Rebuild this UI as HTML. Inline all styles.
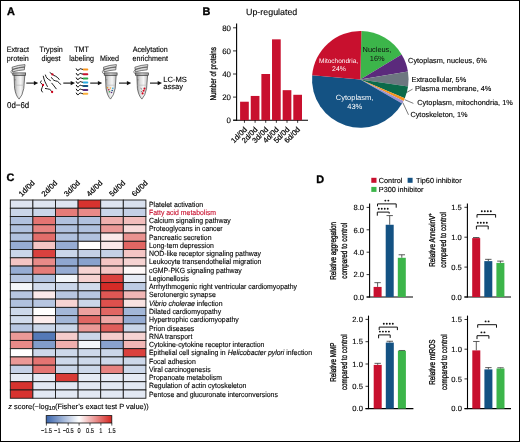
<!DOCTYPE html>
<html><head><meta charset="utf-8"><style>
html,body{margin:0;padding:0;background:#fff;}
svg{display:block;font-family:"Liberation Sans", sans-serif;will-change:transform;}
text{stroke-width:0.12px;paint-order:fill;text-rendering:geometricPrecision;}
</style></head><body>
<svg width="520" height="442" viewBox="0 0 520 442" font-family='"Liberation Sans", sans-serif'>
<rect width="520" height="442" fill="#fff"/>
<rect x="0.5" y="0.5" width="519" height="441" fill="none" stroke="#000" stroke-width="1"/>
<text x="6.9" y="15" font-size="10.9" text-anchor="start" fill="#000" font-weight="bold" stroke="#000" style="stroke-width:0.35px">A</text>
<text x="202.4" y="15.2" font-size="10.9" text-anchor="start" fill="#000" font-weight="bold" stroke="#000" style="stroke-width:0.35px">B</text>
<text x="6.4" y="181.3" font-size="10.9" text-anchor="start" fill="#000" font-weight="bold" stroke="#000" style="stroke-width:0.35px">C</text>
<text x="316.3" y="182.6" font-size="10.9" text-anchor="start" fill="#000" font-weight="bold" stroke="#000" style="stroke-width:0.35px">D</text>
<text transform="translate(17.8,51.7) scale(0.92,1)" font-size="7.8" text-anchor="middle" fill="#000" stroke="#000">Extract</text>
<text transform="translate(17.8,60.8) scale(0.92,1)" font-size="7.8" text-anchor="middle" fill="#000" stroke="#000">protein</text>
<text transform="translate(51.2,51.7) scale(0.92,1)" font-size="7.8" text-anchor="middle" fill="#000" stroke="#000">Trypsin</text>
<text transform="translate(51.0,60.8) scale(0.92,1)" font-size="7.8" text-anchor="middle" fill="#000" stroke="#000">digest</text>
<text transform="translate(81.5,51.7) scale(0.92,1)" font-size="7.8" text-anchor="middle" fill="#000" stroke="#000">TMT</text>
<text transform="translate(81.5,60.8) scale(0.92,1)" font-size="7.8" text-anchor="middle" fill="#000" stroke="#000">labeling</text>
<text transform="translate(109.5,60.8) scale(0.92,1)" font-size="7.8" text-anchor="middle" fill="#000" stroke="#000">Mixed</text>
<text transform="translate(150.2,51.7) scale(0.92,1)" font-size="7.8" text-anchor="middle" fill="#000" stroke="#000">Acelytation</text>
<text transform="translate(150.2,60.8) scale(0.92,1)" font-size="7.8" text-anchor="middle" fill="#000" stroke="#000">enrichment</text>
<text x="163.3" y="81.5" font-size="7.6" text-anchor="start" fill="#000" font-weight="normal"  style="" stroke="#000">LC-MS</text>
<text x="163.3" y="88.6" font-size="7.6" text-anchor="start" fill="#000" font-weight="normal"  style="" stroke="#000">assay</text>
<text transform="translate(18.15,107.5) scale(0.93,1)" font-size="8.5" text-anchor="middle" fill="#000" stroke="#000">0d−6d</text>
<defs>
<linearGradient id="tg" x1="0" x2="1" y1="0" y2="0">
<stop offset="0" stop-color="#9c9c9c"/><stop offset="0.3" stop-color="#dadada"/><stop offset="0.62" stop-color="#f6f6f6"/><stop offset="1" stop-color="#bdbdbd"/>
</linearGradient>
<linearGradient id="lg" x1="0" x2="1" y1="0" y2="0">
<stop offset="0" stop-color="#8a8a8a"/><stop offset="0.5" stop-color="#d4d4d4"/><stop offset="1" stop-color="#a0a0a0"/>
</linearGradient>
<g id="tube">
<path d="M-5.2,0 L-4.6,13.2 Q-3.4,20.6 -0.1,23.9 Q3.2,20.6 4.6,13.2 L5.6,0 Z" fill="url(#tg)" stroke="#2a2a2a" stroke-width="0.6"/>
<line x1="-4.6" y1="10.0" x2="4.6" y2="10.0" stroke="#b5b5b5" stroke-width="0.6"/>
<line x1="-4.9" y1="4.6" x2="-3.3" y2="4.6" stroke="#555" stroke-width="0.45"/>
<rect x="-6.4" y="-2.3" width="12.9" height="2.3" fill="url(#lg)" stroke="#2a2a2a" stroke-width="0.6"/>
<path d="M-6.6,-3.3 L-6.9,-5.6 Q-1,-7.6 5.4,-8.2 L5.2,-5.4 Q-0.5,-5.0 -6.6,-3.3 Z" fill="#d8d8d8" stroke="#2a2a2a" stroke-width="0.6"/>
<path d="M-6.9,-5.9 L-7.1,-8.0 Q-1,-10.2 5.8,-10.6 L5.6,-8.5 Q-0.8,-7.9 -6.9,-5.9 Z" fill="#e2e2e2" stroke="#2a2a2a" stroke-width="0.6"/>
<path d="M-6.9,-5.4 Q-9.0,-4.0 -7.9,-2.2 L-6.5,-1.4" fill="none" stroke="#333" stroke-width="0.55"/>
</g>
</defs>
<use href="#tube" x="19.2" y="75.2"/>
<use href="#tube" x="110.6" y="75.2"/>
<use href="#tube" x="142.0" y="75.2"/>
<line x1="26.3" y1="83.1" x2="34.800000000000004" y2="83.1" stroke="#111" stroke-width="1.1"/>
<path d="M33.900000000000006,80.9 L38.2,83.1 L33.900000000000006,85.3 Z" fill="#111"/>
<line x1="63.3" y1="83.1" x2="71.6" y2="83.1" stroke="#111" stroke-width="1.1"/>
<path d="M70.7,80.9 L75.0,83.1 L70.7,85.3 Z" fill="#111"/>
<line x1="90.2" y1="83.1" x2="98.8" y2="83.1" stroke="#111" stroke-width="1.1"/>
<path d="M97.9,80.9 L102.2,83.1 L97.9,85.3 Z" fill="#111"/>
<line x1="119.0" y1="83.1" x2="127.79999999999998" y2="83.1" stroke="#111" stroke-width="1.1"/>
<path d="M126.89999999999999,80.9 L131.2,83.1 L126.89999999999999,85.3 Z" fill="#111"/>
<line x1="150.0" y1="83.1" x2="158.6" y2="83.1" stroke="#111" stroke-width="1.1"/>
<path d="M157.7,80.9 L162.0,83.1 L157.7,85.3 Z" fill="#111"/>
<path d="M41.2,80.9 L40.4,82.6 L43.0,85.0 L42.2,87.4 L41.2,90.0 L42.4,92.0" fill="none" stroke="#111" stroke-width="0.95" stroke-linecap="round" stroke-linejoin="round"/>
<path d="M43.3,76.2 Q44.0,79.5 45.0,81.8 Q46.3,84.3 47.4,86.5" fill="none" stroke="#111" stroke-width="0.95" stroke-linecap="round" stroke-linejoin="round"/>
<path d="M45.4,75.0 Q46.0,77.0 46.8,77.9 Q48.5,79.6 50.4,80.6" fill="none" stroke="#111" stroke-width="0.95" stroke-linecap="round" stroke-linejoin="round"/>
<path d="M50.0,72.6 L52.4,74.4 Q54.0,75.6 55.6,76.2 Q58.0,77.3 59.2,79.4" fill="none" stroke="#111" stroke-width="0.95" stroke-linecap="round" stroke-linejoin="round"/>
<path d="M51.5,77.6 Q52.6,79.4 53.9,80.3 Q55.6,81.0 57.4,81.3 Q59.3,82.6 60.6,84.4" fill="none" stroke="#111" stroke-width="0.95" stroke-linecap="round" stroke-linejoin="round"/>
<path d="M51.8,83.2 Q54.0,85.8 56.2,88.8" fill="none" stroke="#111" stroke-width="0.95" stroke-linecap="round" stroke-linejoin="round"/>
<path d="M45.4,88.5 Q47.8,88.8 49.8,89.4 Q51.3,90.4 52.1,92.1" fill="none" stroke="#111" stroke-width="0.95" stroke-linecap="round" stroke-linejoin="round"/>
<circle cx="43.0" cy="85.0" r="1.15" fill="#d0021b"/>
<circle cx="52.4" cy="74.4" r="1.15" fill="#d0021b"/>
<circle cx="52.1" cy="92.0" r="1.15" fill="#d0021b"/>
<path d="M76.3,68.8 Q77.2,70.9 78.1,70.5 Q78.9,69.9 79.6,69.0 Q80.6,68.4 81.6,69.1 L83.2,69.5" fill="none" stroke="#000" stroke-width="1.0" stroke-linecap="round" stroke-linejoin="round"/>
<line x1="83.7" y1="69.5" x2="87.3" y2="69.5" stroke="#f7941d" stroke-width="2.0" stroke-linecap="round"/>
<path d="M76.3,73.5 Q77.2,75.60000000000001 78.1,75.2 Q78.9,74.60000000000001 79.6,73.7 Q80.6,73.10000000000001 81.6,73.8 L83.2,74.2" fill="none" stroke="#000" stroke-width="1.0" stroke-linecap="round" stroke-linejoin="round"/>
<line x1="83.7" y1="74.2" x2="87.3" y2="74.2" stroke="#c8102e" stroke-width="2.0" stroke-linecap="round"/>
<path d="M76.3,77.89999999999999 Q77.2,80.0 78.1,79.6 Q78.9,79.0 79.6,78.1 Q80.6,77.5 81.6,78.19999999999999 L83.2,78.6" fill="none" stroke="#000" stroke-width="1.0" stroke-linecap="round" stroke-linejoin="round"/>
<line x1="83.7" y1="78.6" x2="87.3" y2="78.6" stroke="#2daa4a" stroke-width="2.0" stroke-linecap="round"/>
<path d="M76.3,81.7 Q77.2,83.80000000000001 78.1,83.4 Q78.9,82.80000000000001 79.6,81.9 Q80.6,81.30000000000001 81.6,82.0 L83.2,82.4" fill="none" stroke="#000" stroke-width="1.0" stroke-linecap="round" stroke-linejoin="round"/>
<line x1="83.7" y1="82.4" x2="87.3" y2="82.4" stroke="#29abe2" stroke-width="2.0" stroke-linecap="round"/>
<path d="M76.3,85.3 Q77.2,87.4 78.1,87.0 Q78.9,86.4 79.6,85.5 Q80.6,84.9 81.6,85.6 L83.2,86.0" fill="none" stroke="#000" stroke-width="1.0" stroke-linecap="round" stroke-linejoin="round"/>
<line x1="83.7" y1="86.0" x2="87.3" y2="86.0" stroke="#145283" stroke-width="2.0" stroke-linecap="round"/>
<path d="M76.3,89.2 Q77.2,91.30000000000001 78.1,90.9 Q78.9,90.30000000000001 79.6,89.4 Q80.6,88.80000000000001 81.6,89.5 L83.2,89.9" fill="none" stroke="#000" stroke-width="1.0" stroke-linecap="round" stroke-linejoin="round"/>
<line x1="83.7" y1="89.9" x2="87.3" y2="89.9" stroke="#5b2a7c" stroke-width="2.0" stroke-linecap="round"/>
<path d="M76.3,93.1 Q77.2,95.2 78.1,94.8 Q78.9,94.2 79.6,93.3 Q80.6,92.7 81.6,93.39999999999999 L83.2,93.8" fill="none" stroke="#000" stroke-width="1.0" stroke-linecap="round" stroke-linejoin="round"/>
<line x1="83.7" y1="93.8" x2="87.3" y2="93.8" stroke="#fbb03b" stroke-width="2.0" stroke-linecap="round"/>
<circle cx="107.5" cy="87.8" r="0.8" fill="#f7941d"/>
<circle cx="110.4" cy="88.0" r="0.8" fill="#fbb03b"/>
<circle cx="112.8" cy="88.2" r="0.8" fill="#29abe2"/>
<circle cx="108.8" cy="89.8" r="0.8" fill="#c8102e"/>
<circle cx="112.2" cy="90.5" r="0.8" fill="#145283"/>
<circle cx="109.5" cy="91.8" r="0.8" fill="#2daa4a"/>
<circle cx="111.5" cy="92.5" r="0.8" fill="#5b2a7c"/>
<path d="M140.5,88.2 L142.0,89.3 M140.9,91.4 L142.2,91.8" fill="none" stroke="#333" stroke-width="0.55"/>
<circle cx="144.5" cy="88.6" r="1.05" fill="#d0021b"/>
<circle cx="143.6" cy="90.7" r="1.05" fill="#d0021b"/>
<circle cx="142.6" cy="93.4" r="1.05" fill="#d0021b"/>
<text x="246.0" y="15.0" font-size="8.9" text-anchor="start" fill="#000" font-weight="normal"  style="" stroke="#000">Up-regulated</text>
<line x1="236.6" y1="23.6" x2="236.6" y2="120.7" stroke="#000" stroke-width="1.1"/>
<line x1="233.2" y1="120.2" x2="308" y2="120.2" stroke="#000" stroke-width="1.1"/>
<line x1="233.0" y1="120.2" x2="236.6" y2="120.2" stroke="#000" stroke-width="0.8"/>
<text x="231.0" y="123.00" font-size="7.9" text-anchor="end" fill="#000" font-weight="normal"  style="" stroke="#000">0</text>
<line x1="233.0" y1="97.1" x2="236.6" y2="97.1" stroke="#000" stroke-width="0.8"/>
<text x="231.0" y="99.90" font-size="7.9" text-anchor="end" fill="#000" font-weight="normal"  style="" stroke="#000">20</text>
<line x1="233.0" y1="74.0" x2="236.6" y2="74.0" stroke="#000" stroke-width="0.8"/>
<text x="231.0" y="76.80" font-size="7.9" text-anchor="end" fill="#000" font-weight="normal"  style="" stroke="#000">40</text>
<line x1="233.0" y1="50.900000000000006" x2="236.6" y2="50.900000000000006" stroke="#000" stroke-width="0.8"/>
<text x="231.0" y="53.70" font-size="7.9" text-anchor="end" fill="#000" font-weight="normal"  style="" stroke="#000">60</text>
<line x1="233.0" y1="27.799999999999997" x2="236.6" y2="27.799999999999997" stroke="#000" stroke-width="0.8"/>
<text x="231.0" y="30.60" font-size="7.9" text-anchor="end" fill="#000" font-weight="normal"  style="" stroke="#000">80</text>
<rect x="240.1" y="101.72" width="8.7" height="18.48" fill="#c8102e"/>
<line x1="244.45" y1="120.2" x2="244.45" y2="122.8" stroke="#000" stroke-width="0.8"/>
<text transform="translate(247.35,130.1) rotate(-45)" font-size="7.5" text-anchor="end" fill="#000" stroke="#000" style="stroke-width:0.2px">1d/0d</text>
<rect x="250.74" y="95.94500000000001" width="8.7" height="24.255" fill="#c8102e"/>
<line x1="255.09" y1="120.2" x2="255.09" y2="122.8" stroke="#000" stroke-width="0.8"/>
<text transform="translate(257.99,130.1) rotate(-45)" font-size="7.5" text-anchor="end" fill="#000" stroke="#000" style="stroke-width:0.2px">2d/0d</text>
<rect x="261.38" y="74.0" width="8.7" height="46.2" fill="#c8102e"/>
<line x1="265.73" y1="120.2" x2="265.73" y2="122.8" stroke="#000" stroke-width="0.8"/>
<text transform="translate(268.63,130.1) rotate(-45)" font-size="7.5" text-anchor="end" fill="#000" stroke="#000" style="stroke-width:0.2px">3d/0d</text>
<rect x="272.02" y="39.349999999999994" width="8.7" height="80.85000000000001" fill="#c8102e"/>
<line x1="276.37" y1="120.2" x2="276.37" y2="122.8" stroke="#000" stroke-width="0.8"/>
<text transform="translate(279.27,130.1) rotate(-45)" font-size="7.5" text-anchor="end" fill="#000" stroke="#000" style="stroke-width:0.2px">4d/0d</text>
<rect x="282.65999999999997" y="90.17" width="8.7" height="30.03" fill="#c8102e"/>
<line x1="287.01" y1="120.2" x2="287.01" y2="122.8" stroke="#000" stroke-width="0.8"/>
<text transform="translate(289.90999999999997,130.1) rotate(-45)" font-size="7.5" text-anchor="end" fill="#000" stroke="#000" style="stroke-width:0.2px">5d/0d</text>
<rect x="293.3" y="94.79" width="8.7" height="25.41" fill="#c8102e"/>
<line x1="297.65000000000003" y1="120.2" x2="297.65000000000003" y2="122.8" stroke="#000" stroke-width="0.8"/>
<text transform="translate(300.55,130.1) rotate(-45)" font-size="7.5" text-anchor="end" fill="#000" stroke="#000" style="stroke-width:0.2px">6d/0d</text>
<text transform="translate(215.8,73.8) rotate(-90) scale(0.742,1)" font-size="8.5" text-anchor="middle" fill="#000" stroke="#000" style="stroke-width:0.3px">Number of proteins</text>
<path d="M360.3,79.4 L361.40,31.11 A48.3,48.3 0 0 1 401.66,54.45 Z" fill="#3cb54a"/>
<path d="M360.3,79.4 L401.66,54.45 A48.3,48.3 0 0 1 407.94,71.43 Z" fill="#5b2a7c"/>
<path d="M360.3,79.4 L407.94,71.43 A48.3,48.3 0 0 1 408.07,86.54 Z" fill="#6d7780"/>
<path d="M360.3,79.4 L408.07,86.54 A48.3,48.3 0 0 1 404.79,98.19 Z" fill="#0b6a4a"/>
<path d="M360.3,79.4 L404.79,98.19 A48.3,48.3 0 0 1 403.53,100.95 Z" fill="#f7941d"/>
<path d="M360.3,79.4 L403.53,100.95 A48.3,48.3 0 0 1 402.09,103.62 Z" fill="#9b8fd0"/>
<path d="M360.3,79.4 L402.09,103.62 A48.3,48.3 0 0 1 312.18,75.27 Z" fill="#145283"/>
<path d="M360.3,79.4 L312.18,75.27 A48.3,48.3 0 0 1 361.40,31.11 Z" fill="#c8102e"/>
<text x="377.0" y="51.6" font-size="7.4" text-anchor="middle" fill="#111" font-weight="normal" stroke="none" style="">Nucleus,</text>
<text x="377.2" y="61.1" font-size="7.4" text-anchor="middle" fill="#111" font-weight="normal" stroke="none" style="">16%</text>
<text x="338.6" y="62.9" font-size="6.5" text-anchor="middle" fill="#fff" font-weight="normal" stroke="none" style="">Mitochondria,</text>
<text x="339.0" y="71.0" font-size="6.9" text-anchor="middle" fill="#fff" font-weight="normal" stroke="none" style="">24%</text>
<text x="354.6" y="99.8" font-size="7.5" text-anchor="middle" fill="#fff" font-weight="normal" stroke="none" style="">Cytoplasm,</text>
<text x="354.8" y="109.3" font-size="7.5" text-anchor="middle" fill="#fff" font-weight="normal" stroke="none" style="">43%</text>
<text x="408.1" y="62.6" font-size="7.35" text-anchor="start" fill="#000" font-weight="normal"  style="" stroke="#000">Cytoplasm, nucleus, 6%</text>
<text x="411.5" y="81.5" font-size="7.35" text-anchor="start" fill="#000" font-weight="normal"  style="" stroke="#000">Extracellular, 5%</text>
<text x="415.0" y="91.2" font-size="7.35" text-anchor="start" fill="#000" font-weight="normal"  style="" stroke="#000">Plasma membrane, 4%</text>
<text x="417.3" y="104.6" font-size="7.35" text-anchor="start" fill="#000" font-weight="normal"  style="" stroke="#000">Cytoplasm, mitochondria, 1%</text>
<text x="410.4" y="116.8" font-size="7.35" text-anchor="start" fill="#000" font-weight="normal"  style="" stroke="#000">Cytoskeleton, 1%</text>
<line x1="406.4" y1="92.6" x2="412.6" y2="89.1" stroke="#333" stroke-width="0.65"/>
<line x1="404.8" y1="99.7" x2="413.4" y2="103.4" stroke="#333" stroke-width="0.65"/>
<line x1="402.8" y1="102.6" x2="408.5" y2="114.8" stroke="#333" stroke-width="0.65"/>
<rect x="10.30" y="200.00" width="22.60" height="8.26" fill="#dee5f1" stroke="#1a1a1a" stroke-width="0.9"/>
<rect x="32.90" y="200.00" width="22.60" height="8.26" fill="#dee5f1" stroke="#1a1a1a" stroke-width="0.9"/>
<rect x="55.50" y="200.00" width="22.60" height="8.26" fill="#dee5f1" stroke="#1a1a1a" stroke-width="0.9"/>
<rect x="78.10" y="200.00" width="22.60" height="8.26" fill="#d7332f" stroke="#1a1a1a" stroke-width="0.9"/>
<rect x="100.70" y="200.00" width="22.60" height="8.26" fill="#dee5f1" stroke="#1a1a1a" stroke-width="0.9"/>
<rect x="123.30" y="200.00" width="22.60" height="8.26" fill="#d8e0ee" stroke="#1a1a1a" stroke-width="0.9"/>
<text transform="translate(149.0,206.60) scale(0.92,1)" font-size="7.5" fill="#000" stroke="#000">Platelet activation</text>
<rect x="10.30" y="208.26" width="22.60" height="8.26" fill="#cad6e9" stroke="#1a1a1a" stroke-width="0.9"/>
<rect x="32.90" y="208.26" width="22.60" height="8.26" fill="#cad6e9" stroke="#1a1a1a" stroke-width="0.9"/>
<rect x="55.50" y="208.26" width="22.60" height="8.26" fill="#e57c79" stroke="#1a1a1a" stroke-width="0.9"/>
<rect x="78.10" y="208.26" width="22.60" height="8.26" fill="#e88a88" stroke="#1a1a1a" stroke-width="0.9"/>
<rect x="100.70" y="208.26" width="22.60" height="8.26" fill="#cad6e9" stroke="#1a1a1a" stroke-width="0.9"/>
<rect x="123.30" y="208.26" width="22.60" height="8.26" fill="#c4d0e6" stroke="#1a1a1a" stroke-width="0.9"/>
<text transform="translate(149.0,214.86) scale(0.92,1)" font-size="7.5" fill="#c8102e" stroke="#c8102e">Fatty acid metabolism</text>
<rect x="10.30" y="216.52" width="22.60" height="8.26" fill="#b0c1de" stroke="#1a1a1a" stroke-width="0.9"/>
<rect x="32.90" y="216.52" width="22.60" height="8.26" fill="#e47472" stroke="#1a1a1a" stroke-width="0.9"/>
<rect x="55.50" y="216.52" width="22.60" height="8.26" fill="#b0c1de" stroke="#1a1a1a" stroke-width="0.9"/>
<rect x="78.10" y="216.52" width="22.60" height="8.26" fill="#b0c1de" stroke="#1a1a1a" stroke-width="0.9"/>
<rect x="100.70" y="216.52" width="22.60" height="8.26" fill="#efafad" stroke="#1a1a1a" stroke-width="0.9"/>
<rect x="123.30" y="216.52" width="22.60" height="8.26" fill="#f2bdbc" stroke="#1a1a1a" stroke-width="0.9"/>
<text transform="translate(149.0,223.12) scale(0.92,1)" font-size="7.5" fill="#000" stroke="#000">Calcium signaling pathway</text>
<rect x="10.30" y="224.78" width="22.60" height="8.26" fill="#b0c1de" stroke="#1a1a1a" stroke-width="0.9"/>
<rect x="32.90" y="224.78" width="22.60" height="8.26" fill="#e78381" stroke="#1a1a1a" stroke-width="0.9"/>
<rect x="55.50" y="224.78" width="22.60" height="8.26" fill="#b0c1de" stroke="#1a1a1a" stroke-width="0.9"/>
<rect x="78.10" y="224.78" width="22.60" height="8.26" fill="#b0c1de" stroke="#1a1a1a" stroke-width="0.9"/>
<rect x="100.70" y="224.78" width="22.60" height="8.26" fill="#eb9997" stroke="#1a1a1a" stroke-width="0.9"/>
<rect x="123.30" y="224.78" width="22.60" height="8.26" fill="#f8dada" stroke="#1a1a1a" stroke-width="0.9"/>
<text transform="translate(149.0,231.38) scale(0.92,1)" font-size="7.5" fill="#000" stroke="#000">Proteoglycans in cancer</text>
<rect x="10.30" y="233.04" width="22.60" height="8.26" fill="#b0c1de" stroke="#1a1a1a" stroke-width="0.9"/>
<rect x="32.90" y="233.04" width="22.60" height="8.26" fill="#e26d6a" stroke="#1a1a1a" stroke-width="0.9"/>
<rect x="55.50" y="233.04" width="22.60" height="8.26" fill="#b0c1de" stroke="#1a1a1a" stroke-width="0.9"/>
<rect x="78.10" y="233.04" width="22.60" height="8.26" fill="#b0c1de" stroke="#1a1a1a" stroke-width="0.9"/>
<rect x="100.70" y="233.04" width="22.60" height="8.26" fill="#fbe9e9" stroke="#1a1a1a" stroke-width="0.9"/>
<rect x="123.30" y="233.04" width="22.60" height="8.26" fill="#ea9290" stroke="#1a1a1a" stroke-width="0.9"/>
<text transform="translate(149.0,239.64) scale(0.92,1)" font-size="7.5" fill="#000" stroke="#000">Pancreatic secretion</text>
<rect x="10.30" y="241.30" width="22.60" height="8.26" fill="#96acd3" stroke="#1a1a1a" stroke-width="0.9"/>
<rect x="32.90" y="241.30" width="22.60" height="8.26" fill="#f4c5c4" stroke="#1a1a1a" stroke-width="0.9"/>
<rect x="55.50" y="241.30" width="22.60" height="8.26" fill="#96acd3" stroke="#1a1a1a" stroke-width="0.9"/>
<rect x="78.10" y="241.30" width="22.60" height="8.26" fill="#ffffff" stroke="#1a1a1a" stroke-width="0.9"/>
<rect x="100.70" y="241.30" width="22.60" height="8.26" fill="#fbe9e9" stroke="#1a1a1a" stroke-width="0.9"/>
<rect x="123.30" y="241.30" width="22.60" height="8.26" fill="#e16663" stroke="#1a1a1a" stroke-width="0.9"/>
<text transform="translate(149.0,247.90) scale(0.92,1)" font-size="7.5" fill="#000" stroke="#000">Long-tem depression</text>
<rect x="10.30" y="249.56" width="22.60" height="8.26" fill="#cad6e9" stroke="#1a1a1a" stroke-width="0.9"/>
<rect x="32.90" y="249.56" width="22.60" height="8.26" fill="#da413e" stroke="#1a1a1a" stroke-width="0.9"/>
<rect x="55.50" y="249.56" width="22.60" height="8.26" fill="#cad6e9" stroke="#1a1a1a" stroke-width="0.9"/>
<rect x="78.10" y="249.56" width="22.60" height="8.26" fill="#c4d0e6" stroke="#1a1a1a" stroke-width="0.9"/>
<rect x="100.70" y="249.56" width="22.60" height="8.26" fill="#c4d0e6" stroke="#1a1a1a" stroke-width="0.9"/>
<rect x="123.30" y="249.56" width="22.60" height="8.26" fill="#f4c5c4" stroke="#1a1a1a" stroke-width="0.9"/>
<text transform="translate(149.0,256.16) scale(0.92,1)" font-size="7.5" fill="#000" stroke="#000">NOD-like receptor signaling pathway</text>
<rect x="10.30" y="257.82" width="22.60" height="8.26" fill="#f4c5c4" stroke="#1a1a1a" stroke-width="0.9"/>
<rect x="32.90" y="257.82" width="22.60" height="8.26" fill="#e88a88" stroke="#1a1a1a" stroke-width="0.9"/>
<rect x="55.50" y="257.82" width="22.60" height="8.26" fill="#8fa7d0" stroke="#1a1a1a" stroke-width="0.9"/>
<rect x="78.10" y="257.82" width="22.60" height="8.26" fill="#89a2cd" stroke="#1a1a1a" stroke-width="0.9"/>
<rect x="100.70" y="257.82" width="22.60" height="8.26" fill="#f4c5c4" stroke="#1a1a1a" stroke-width="0.9"/>
<rect x="123.30" y="257.82" width="22.60" height="8.26" fill="#f6d3d2" stroke="#1a1a1a" stroke-width="0.9"/>
<text transform="translate(149.0,264.42) scale(0.92,1)" font-size="7.5" fill="#000" stroke="#000">Leukocyte transendothelial migration</text>
<rect x="10.30" y="266.08" width="22.60" height="8.26" fill="#96acd3" stroke="#1a1a1a" stroke-width="0.9"/>
<rect x="32.90" y="266.08" width="22.60" height="8.26" fill="#e57c79" stroke="#1a1a1a" stroke-width="0.9"/>
<rect x="55.50" y="266.08" width="22.60" height="8.26" fill="#96acd3" stroke="#1a1a1a" stroke-width="0.9"/>
<rect x="78.10" y="266.08" width="22.60" height="8.26" fill="#f6d3d2" stroke="#1a1a1a" stroke-width="0.9"/>
<rect x="100.70" y="266.08" width="22.60" height="8.26" fill="#f4c5c4" stroke="#1a1a1a" stroke-width="0.9"/>
<rect x="123.30" y="266.08" width="22.60" height="8.26" fill="#fef8f8" stroke="#1a1a1a" stroke-width="0.9"/>
<text transform="translate(149.0,272.68) scale(0.92,1)" font-size="7.5" fill="#000" stroke="#000">cGMP-PKG signaling pathway</text>
<rect x="10.30" y="274.34" width="22.60" height="8.26" fill="#b7c6e1" stroke="#1a1a1a" stroke-width="0.9"/>
<rect x="32.90" y="274.34" width="22.60" height="8.26" fill="#b0c1de" stroke="#1a1a1a" stroke-width="0.9"/>
<rect x="55.50" y="274.34" width="22.60" height="8.26" fill="#f2f5f9" stroke="#1a1a1a" stroke-width="0.9"/>
<rect x="78.10" y="274.34" width="22.60" height="8.26" fill="#f6d3d2" stroke="#1a1a1a" stroke-width="0.9"/>
<rect x="100.70" y="274.34" width="22.60" height="8.26" fill="#da413e" stroke="#1a1a1a" stroke-width="0.9"/>
<rect x="123.30" y="274.34" width="22.60" height="8.26" fill="#e5eaf4" stroke="#1a1a1a" stroke-width="0.9"/>
<text transform="translate(149.0,280.94) scale(0.92,1)" font-size="7.5" fill="#000" stroke="#000">Legionellosis</text>
<rect x="10.30" y="282.60" width="22.60" height="8.26" fill="#f4f7fb" stroke="#1a1a1a" stroke-width="0.9"/>
<rect x="32.90" y="282.60" width="22.60" height="8.26" fill="#d1dbec" stroke="#1a1a1a" stroke-width="0.9"/>
<rect x="55.50" y="282.60" width="22.60" height="8.26" fill="#cad6e9" stroke="#1a1a1a" stroke-width="0.9"/>
<rect x="78.10" y="282.60" width="22.60" height="8.26" fill="#d1dbec" stroke="#1a1a1a" stroke-width="0.9"/>
<rect x="100.70" y="282.60" width="22.60" height="8.26" fill="#d52b27" stroke="#1a1a1a" stroke-width="0.9"/>
<rect x="123.30" y="282.60" width="22.60" height="8.26" fill="#bdcbe3" stroke="#1a1a1a" stroke-width="0.9"/>
<text transform="translate(149.0,289.20) scale(0.92,1)" font-size="7.5" fill="#000" stroke="#000">Arrhythmogenic right ventricular cardiomyopathy</text>
<rect x="10.30" y="290.86" width="22.60" height="8.26" fill="#b7c6e1" stroke="#1a1a1a" stroke-width="0.9"/>
<rect x="32.90" y="290.86" width="22.60" height="8.26" fill="#fbe9e9" stroke="#1a1a1a" stroke-width="0.9"/>
<rect x="55.50" y="290.86" width="22.60" height="8.26" fill="#b7c6e1" stroke="#1a1a1a" stroke-width="0.9"/>
<rect x="78.10" y="290.86" width="22.60" height="8.26" fill="#b7c6e1" stroke="#1a1a1a" stroke-width="0.9"/>
<rect x="100.70" y="290.86" width="22.60" height="8.26" fill="#de5754" stroke="#1a1a1a" stroke-width="0.9"/>
<rect x="123.30" y="290.86" width="22.60" height="8.26" fill="#f1b6b5" stroke="#1a1a1a" stroke-width="0.9"/>
<text transform="translate(149.0,297.46) scale(0.92,1)" font-size="7.5" fill="#000" stroke="#000">Serotonergic synapse</text>
<rect x="10.30" y="299.12" width="22.60" height="8.26" fill="#b0c1de" stroke="#1a1a1a" stroke-width="0.9"/>
<rect x="32.90" y="299.12" width="22.60" height="8.26" fill="#b7c6e1" stroke="#1a1a1a" stroke-width="0.9"/>
<rect x="55.50" y="299.12" width="22.60" height="8.26" fill="#f6d3d2" stroke="#1a1a1a" stroke-width="0.9"/>
<rect x="78.10" y="299.12" width="22.60" height="8.26" fill="#cad6e9" stroke="#1a1a1a" stroke-width="0.9"/>
<rect x="100.70" y="299.12" width="22.60" height="8.26" fill="#dd504d" stroke="#1a1a1a" stroke-width="0.9"/>
<rect x="123.30" y="299.12" width="22.60" height="8.26" fill="#f9e2e1" stroke="#1a1a1a" stroke-width="0.9"/>
<text transform="translate(149.0,305.72) scale(0.92,1)" font-size="7.5" fill="#000" stroke="#000"><tspan font-style="italic">Vibrio cholerae</tspan> infection</text>
<rect x="10.30" y="307.38" width="22.60" height="8.26" fill="#cdd8ea" stroke="#1a1a1a" stroke-width="0.9"/>
<rect x="32.90" y="307.38" width="22.60" height="8.26" fill="#ffffff" stroke="#1a1a1a" stroke-width="0.9"/>
<rect x="55.50" y="307.38" width="22.60" height="8.26" fill="#a3b7d8" stroke="#1a1a1a" stroke-width="0.9"/>
<rect x="78.10" y="307.38" width="22.60" height="8.26" fill="#eca09e" stroke="#1a1a1a" stroke-width="0.9"/>
<rect x="100.70" y="307.38" width="22.60" height="8.26" fill="#e16663" stroke="#1a1a1a" stroke-width="0.9"/>
<rect x="123.30" y="307.38" width="22.60" height="8.26" fill="#a3b7d8" stroke="#1a1a1a" stroke-width="0.9"/>
<text transform="translate(149.0,313.98) scale(0.92,1)" font-size="7.5" fill="#000" stroke="#000">Dilated cardiomyopathy</text>
<rect x="10.30" y="315.64" width="22.60" height="8.26" fill="#d1dbec" stroke="#1a1a1a" stroke-width="0.9"/>
<rect x="32.90" y="315.64" width="22.60" height="8.26" fill="#fceded" stroke="#1a1a1a" stroke-width="0.9"/>
<rect x="55.50" y="315.64" width="22.60" height="8.26" fill="#a3b7d8" stroke="#1a1a1a" stroke-width="0.9"/>
<rect x="78.10" y="315.64" width="22.60" height="8.26" fill="#e16663" stroke="#1a1a1a" stroke-width="0.9"/>
<rect x="100.70" y="315.64" width="22.60" height="8.26" fill="#eea7a6" stroke="#1a1a1a" stroke-width="0.9"/>
<rect x="123.30" y="315.64" width="22.60" height="8.26" fill="#96acd3" stroke="#1a1a1a" stroke-width="0.9"/>
<text transform="translate(149.0,322.24) scale(0.92,1)" font-size="7.5" fill="#000" stroke="#000">Hypertrophic cardiomyopathy</text>
<rect x="10.30" y="323.90" width="22.60" height="8.26" fill="#b7c6e1" stroke="#1a1a1a" stroke-width="0.9"/>
<rect x="32.90" y="323.90" width="22.60" height="8.26" fill="#cad6e9" stroke="#1a1a1a" stroke-width="0.9"/>
<rect x="55.50" y="323.90" width="22.60" height="8.26" fill="#cad6e9" stroke="#1a1a1a" stroke-width="0.9"/>
<rect x="78.10" y="323.90" width="22.60" height="8.26" fill="#eb9997" stroke="#1a1a1a" stroke-width="0.9"/>
<rect x="100.70" y="323.90" width="22.60" height="8.26" fill="#df5e5b" stroke="#1a1a1a" stroke-width="0.9"/>
<rect x="123.30" y="323.90" width="22.60" height="8.26" fill="#cad6e9" stroke="#1a1a1a" stroke-width="0.9"/>
<text transform="translate(149.0,330.50) scale(0.92,1)" font-size="7.5" fill="#000" stroke="#000">Prion diseases</text>
<rect x="10.30" y="332.16" width="22.60" height="8.26" fill="#eb9997" stroke="#1a1a1a" stroke-width="0.9"/>
<rect x="32.90" y="332.16" width="22.60" height="8.26" fill="#5479b7" stroke="#1a1a1a" stroke-width="0.9"/>
<rect x="55.50" y="332.16" width="22.60" height="8.26" fill="#f5cccb" stroke="#1a1a1a" stroke-width="0.9"/>
<rect x="78.10" y="332.16" width="22.60" height="8.26" fill="#cad6e9" stroke="#1a1a1a" stroke-width="0.9"/>
<rect x="100.70" y="332.16" width="22.60" height="8.26" fill="#f5cccb" stroke="#1a1a1a" stroke-width="0.9"/>
<rect x="123.30" y="332.16" width="22.60" height="8.26" fill="#f6d3d2" stroke="#1a1a1a" stroke-width="0.9"/>
<text transform="translate(149.0,338.76) scale(0.92,1)" font-size="7.5" fill="#000" stroke="#000">RNA transport</text>
<rect x="10.30" y="340.42" width="22.60" height="8.26" fill="#e88a88" stroke="#1a1a1a" stroke-width="0.9"/>
<rect x="32.90" y="340.42" width="22.60" height="8.26" fill="#829dca" stroke="#1a1a1a" stroke-width="0.9"/>
<rect x="55.50" y="340.42" width="22.60" height="8.26" fill="#efafad" stroke="#1a1a1a" stroke-width="0.9"/>
<rect x="78.10" y="340.42" width="22.60" height="8.26" fill="#f2f5f9" stroke="#1a1a1a" stroke-width="0.9"/>
<rect x="100.70" y="340.42" width="22.60" height="8.26" fill="#89a2cd" stroke="#1a1a1a" stroke-width="0.9"/>
<rect x="123.30" y="340.42" width="22.60" height="8.26" fill="#f1b6b5" stroke="#1a1a1a" stroke-width="0.9"/>
<text transform="translate(149.0,347.02) scale(0.92,1)" font-size="7.5" fill="#000" stroke="#000">Cytokine-cytokine receptor interaction</text>
<rect x="10.30" y="348.68" width="22.60" height="8.26" fill="#ffffff" stroke="#1a1a1a" stroke-width="0.9"/>
<rect x="32.90" y="348.68" width="22.60" height="8.26" fill="#cdd8ea" stroke="#1a1a1a" stroke-width="0.9"/>
<rect x="55.50" y="348.68" width="22.60" height="8.26" fill="#cdd8ea" stroke="#1a1a1a" stroke-width="0.9"/>
<rect x="78.10" y="348.68" width="22.60" height="8.26" fill="#cdd8ea" stroke="#1a1a1a" stroke-width="0.9"/>
<rect x="100.70" y="348.68" width="22.60" height="8.26" fill="#cad6e9" stroke="#1a1a1a" stroke-width="0.9"/>
<rect x="123.30" y="348.68" width="22.60" height="8.26" fill="#da413e" stroke="#1a1a1a" stroke-width="0.9"/>
<text transform="translate(149.0,355.28) scale(0.92,1)" font-size="7.5" fill="#000" stroke="#000">Epithelial cell signaling in <tspan font-style="italic">Helicobacter pylori</tspan> infection</text>
<rect x="10.30" y="356.94" width="22.60" height="8.26" fill="#eb9997" stroke="#1a1a1a" stroke-width="0.9"/>
<rect x="32.90" y="356.94" width="22.60" height="8.26" fill="#e47472" stroke="#1a1a1a" stroke-width="0.9"/>
<rect x="55.50" y="356.94" width="22.60" height="8.26" fill="#cdd8ea" stroke="#1a1a1a" stroke-width="0.9"/>
<rect x="78.10" y="356.94" width="22.60" height="8.26" fill="#cdd8ea" stroke="#1a1a1a" stroke-width="0.9"/>
<rect x="100.70" y="356.94" width="22.60" height="8.26" fill="#cdd8ea" stroke="#1a1a1a" stroke-width="0.9"/>
<rect x="123.30" y="356.94" width="22.60" height="8.26" fill="#cdd8ea" stroke="#1a1a1a" stroke-width="0.9"/>
<text transform="translate(149.0,363.54) scale(0.92,1)" font-size="7.5" fill="#000" stroke="#000">Focal adhesion</text>
<rect x="10.30" y="365.20" width="22.60" height="8.26" fill="#c4d0e6" stroke="#1a1a1a" stroke-width="0.9"/>
<rect x="32.90" y="365.20" width="22.60" height="8.26" fill="#e47472" stroke="#1a1a1a" stroke-width="0.9"/>
<rect x="55.50" y="365.20" width="22.60" height="8.26" fill="#cad6e9" stroke="#1a1a1a" stroke-width="0.9"/>
<rect x="78.10" y="365.20" width="22.60" height="8.26" fill="#cdd8ea" stroke="#1a1a1a" stroke-width="0.9"/>
<rect x="100.70" y="365.20" width="22.60" height="8.26" fill="#e78381" stroke="#1a1a1a" stroke-width="0.9"/>
<rect x="123.30" y="365.20" width="22.60" height="8.26" fill="#cdd8ea" stroke="#1a1a1a" stroke-width="0.9"/>
<text transform="translate(149.0,371.80) scale(0.92,1)" font-size="7.5" fill="#000" stroke="#000">Viral carcinogenesis</text>
<rect x="10.30" y="373.46" width="22.60" height="8.26" fill="#e5eaf4" stroke="#1a1a1a" stroke-width="0.9"/>
<rect x="32.90" y="373.46" width="22.60" height="8.26" fill="#e5eaf4" stroke="#1a1a1a" stroke-width="0.9"/>
<rect x="55.50" y="373.46" width="22.60" height="8.26" fill="#d83a36" stroke="#1a1a1a" stroke-width="0.9"/>
<rect x="78.10" y="373.46" width="22.60" height="8.26" fill="#e5eaf4" stroke="#1a1a1a" stroke-width="0.9"/>
<rect x="100.70" y="373.46" width="22.60" height="8.26" fill="#e5eaf4" stroke="#1a1a1a" stroke-width="0.9"/>
<rect x="123.30" y="373.46" width="22.60" height="8.26" fill="#e5eaf4" stroke="#1a1a1a" stroke-width="0.9"/>
<text transform="translate(149.0,380.06) scale(0.92,1)" font-size="7.5" fill="#000" stroke="#000">Propanoate metabolism</text>
<rect x="10.30" y="381.72" width="22.60" height="8.26" fill="#d7332f" stroke="#1a1a1a" stroke-width="0.9"/>
<rect x="32.90" y="381.72" width="22.60" height="8.26" fill="#e2e8f3" stroke="#1a1a1a" stroke-width="0.9"/>
<rect x="55.50" y="381.72" width="22.60" height="8.26" fill="#e2e8f3" stroke="#1a1a1a" stroke-width="0.9"/>
<rect x="78.10" y="381.72" width="22.60" height="8.26" fill="#e2e8f3" stroke="#1a1a1a" stroke-width="0.9"/>
<rect x="100.70" y="381.72" width="22.60" height="8.26" fill="#e2e8f3" stroke="#1a1a1a" stroke-width="0.9"/>
<rect x="123.30" y="381.72" width="22.60" height="8.26" fill="#e2e8f3" stroke="#1a1a1a" stroke-width="0.9"/>
<text transform="translate(149.0,388.32) scale(0.92,1)" font-size="7.5" fill="#000" stroke="#000">Regulation of actin cytoskeleton</text>
<rect x="10.30" y="389.98" width="22.60" height="8.26" fill="#d7332f" stroke="#1a1a1a" stroke-width="0.9"/>
<rect x="32.90" y="389.98" width="22.60" height="8.26" fill="#e2e8f3" stroke="#1a1a1a" stroke-width="0.9"/>
<rect x="55.50" y="389.98" width="22.60" height="8.26" fill="#e2e8f3" stroke="#1a1a1a" stroke-width="0.9"/>
<rect x="78.10" y="389.98" width="22.60" height="8.26" fill="#e2e8f3" stroke="#1a1a1a" stroke-width="0.9"/>
<rect x="100.70" y="389.98" width="22.60" height="8.26" fill="#e2e8f3" stroke="#1a1a1a" stroke-width="0.9"/>
<rect x="123.30" y="389.98" width="22.60" height="8.26" fill="#e2e8f3" stroke="#1a1a1a" stroke-width="0.9"/>
<text transform="translate(149.0,396.58) scale(0.92,1)" font-size="7.5" fill="#000" stroke="#000">Pentose and glucuronate interconversions</text>
<text transform="translate(21.80,197.0) rotate(-45)" font-size="7.6" text-anchor="start" fill="#000" stroke="#000" style="stroke-width:0.2px">1d/0d</text>
<text transform="translate(44.40,197.0) rotate(-45)" font-size="7.6" text-anchor="start" fill="#000" stroke="#000" style="stroke-width:0.2px">2d/0d</text>
<text transform="translate(67.00,197.0) rotate(-45)" font-size="7.6" text-anchor="start" fill="#000" stroke="#000" style="stroke-width:0.2px">3d/0d</text>
<text transform="translate(89.60,197.0) rotate(-45)" font-size="7.6" text-anchor="start" fill="#000" stroke="#000" style="stroke-width:0.2px">4d/0d</text>
<text transform="translate(112.20,197.0) rotate(-45)" font-size="7.6" text-anchor="start" fill="#000" stroke="#000" style="stroke-width:0.2px">5d/0d</text>
<text transform="translate(134.80,197.0) rotate(-45)" font-size="7.6" text-anchor="start" fill="#000" stroke="#000" style="stroke-width:0.2px">6d/0d</text>
<text x="8.3" y="408.5" font-size="7.4" fill="#000" stroke="#000"><tspan font-style="italic">z</tspan> score(−log<tspan font-size="5.6" dy="1.8">10</tspan><tspan dy="-1.8">(Fisher’s exact test P value))</tspan></text>
<defs><linearGradient id="cb" x1="0" x2="1" y1="0" y2="0"><stop offset="0.000" stop-color="#3a64ac"/><stop offset="0.050" stop-color="#4e74b4"/><stop offset="0.100" stop-color="#6183bd"/><stop offset="0.150" stop-color="#7592c5"/><stop offset="0.200" stop-color="#89a2cd"/><stop offset="0.250" stop-color="#9cb2d6"/><stop offset="0.300" stop-color="#b0c1de"/><stop offset="0.350" stop-color="#c4d0e6"/><stop offset="0.400" stop-color="#d8e0ee"/><stop offset="0.450" stop-color="#ebf0f7"/><stop offset="0.500" stop-color="#ffffff"/><stop offset="0.550" stop-color="#fbe9e9"/><stop offset="0.600" stop-color="#f6d3d2"/><stop offset="0.650" stop-color="#f2bdbc"/><stop offset="0.700" stop-color="#eea7a6"/><stop offset="0.750" stop-color="#ea9290"/><stop offset="0.800" stop-color="#e57c79"/><stop offset="0.850" stop-color="#e16663"/><stop offset="0.900" stop-color="#dd504d"/><stop offset="0.950" stop-color="#d83a36"/><stop offset="1.000" stop-color="#d42420"/></linearGradient></defs>
<rect x="46.2" y="415.6" width="65.6" height="7.4" fill="url(#cb)" stroke="#111" stroke-width="0.8"/>
<line x1="46.40" y1="423" x2="46.40" y2="425.6" stroke="#111" stroke-width="0.7"/>
<text transform="translate(46.40,433.2) scale(0.8,1)" font-size="7.0" text-anchor="middle" fill="#000" stroke="#000">−1.5</text>
<line x1="57.30" y1="423" x2="57.30" y2="425.6" stroke="#111" stroke-width="0.7"/>
<text transform="translate(57.30,433.2) scale(0.8,1)" font-size="7.0" text-anchor="middle" fill="#000" stroke="#000">−1</text>
<line x1="68.20" y1="423" x2="68.20" y2="425.6" stroke="#111" stroke-width="0.7"/>
<text transform="translate(68.20,433.2) scale(0.8,1)" font-size="7.0" text-anchor="middle" fill="#000" stroke="#000">−0.5</text>
<line x1="79.10" y1="423" x2="79.10" y2="425.6" stroke="#111" stroke-width="0.7"/>
<text transform="translate(79.10,433.2) scale(0.8,1)" font-size="7.0" text-anchor="middle" fill="#000" stroke="#000">0</text>
<line x1="90.00" y1="423" x2="90.00" y2="425.6" stroke="#111" stroke-width="0.7"/>
<text transform="translate(90.00,433.2) scale(0.8,1)" font-size="7.0" text-anchor="middle" fill="#000" stroke="#000">0.5</text>
<line x1="100.90" y1="423" x2="100.90" y2="425.6" stroke="#111" stroke-width="0.7"/>
<text transform="translate(100.90,433.2) scale(0.8,1)" font-size="7.0" text-anchor="middle" fill="#000" stroke="#000">1</text>
<line x1="111.80" y1="423" x2="111.80" y2="425.6" stroke="#111" stroke-width="0.7"/>
<text transform="translate(111.80,433.2) scale(0.8,1)" font-size="7.0" text-anchor="middle" fill="#000" stroke="#000">1.5</text>
<rect x="371.3" y="177.8" width="5.2" height="5.0" fill="#c8102e"/>
<rect x="407.6" y="177.8" width="5.0" height="5.0" fill="#145283"/>
<rect x="371.3" y="186.9" width="5.2" height="5.0" fill="#3cb54a"/>
<text x="378.8" y="182.8" font-size="7.3" text-anchor="start" fill="#000" font-weight="normal"  style="" stroke="#000">Control</text>
<text x="416.0" y="182.8" font-size="7.3" text-anchor="start" fill="#000" font-weight="normal"  style="" stroke="#000">Tip60 inhibitor</text>
<text x="378.8" y="191.8" font-size="7.3" text-anchor="start" fill="#000" font-weight="normal"  style="" stroke="#000">P300 inhibitor</text>
<line x1="369.6" y1="203.4" x2="369.6" y2="297.5" stroke="#000" stroke-width="1.1"/>
<line x1="366.6" y1="297.0" x2="413.0" y2="297.0" stroke="#000" stroke-width="1.1"/>
<line x1="366.6" y1="297.00" x2="369.6" y2="297.00" stroke="#000" stroke-width="0.8"/>
<text x="364.0" y="299.70" font-size="7.6" text-anchor="end" fill="#000" stroke="#000">0.0</text>
<line x1="366.6" y1="274.60" x2="369.6" y2="274.60" stroke="#000" stroke-width="0.8"/>
<text x="364.0" y="277.30" font-size="7.6" text-anchor="end" fill="#000" stroke="#000">2.0</text>
<line x1="366.6" y1="252.20" x2="369.6" y2="252.20" stroke="#000" stroke-width="0.8"/>
<text x="364.0" y="254.90" font-size="7.6" text-anchor="end" fill="#000" stroke="#000">4.0</text>
<line x1="366.6" y1="229.80" x2="369.6" y2="229.80" stroke="#000" stroke-width="0.8"/>
<text x="364.0" y="232.50" font-size="7.6" text-anchor="end" fill="#000" stroke="#000">6.0</text>
<line x1="366.6" y1="207.40" x2="369.6" y2="207.40" stroke="#000" stroke-width="0.8"/>
<text x="364.0" y="210.10" font-size="7.6" text-anchor="end" fill="#000" stroke="#000">8.0</text>
<line x1="377.6" y1="286.92" x2="377.6" y2="282.66" stroke="#333" stroke-width="0.8"/>
<line x1="374.40000000000003" y1="282.66" x2="380.8" y2="282.66" stroke="#333" stroke-width="0.8"/>
<rect x="373.6" y="286.92" width="8.0" height="10.08" fill="#c8102e"/>
<line x1="389.70000000000005" y1="224.76" x2="389.70000000000005" y2="215.58" stroke="#333" stroke-width="0.8"/>
<line x1="386.50000000000006" y1="215.58" x2="392.90000000000003" y2="215.58" stroke="#333" stroke-width="0.8"/>
<rect x="385.70000000000005" y="224.76" width="8.0" height="72.24" fill="#145283"/>
<line x1="401.8" y1="257.80" x2="401.8" y2="254.78" stroke="#333" stroke-width="0.8"/>
<line x1="398.6" y1="254.78" x2="405.0" y2="254.78" stroke="#333" stroke-width="0.8"/>
<rect x="397.8" y="257.80" width="8.0" height="39.20" fill="#3cb54a"/>
<path d="M377.3,215.7 L377.3,212.1 L389.2,212.1 L389.2,213.7" fill="none" stroke="#111" stroke-width="1.0"/>
<circle cx="378.75" cy="208.80" r="0.95" fill="#111"/>
<circle cx="381.75" cy="208.80" r="0.95" fill="#111"/>
<circle cx="384.75" cy="208.80" r="0.95" fill="#111"/>
<circle cx="387.75" cy="208.80" r="0.95" fill="#111"/>
<path d="M377.5,206.3 L377.5,203.9 L396.2,203.9 L396.2,207.70000000000002" fill="none" stroke="#111" stroke-width="1.0"/>
<circle cx="385.35" cy="200.60" r="0.95" fill="#111"/>
<circle cx="388.35" cy="200.60" r="0.95" fill="#111"/>
<text transform="translate(335.6,250.8) rotate(-90) scale(0.742,1)" font-size="8.5" text-anchor="middle" fill="#000" stroke="#000" style="stroke-width:0.3px">Relative aggregation</text>
<text transform="translate(346.8,250.8) rotate(-90) scale(0.742,1)" font-size="8.5" text-anchor="middle" fill="#000" stroke="#000" style="stroke-width:0.3px">compared to control</text>
<line x1="467.4" y1="203.4" x2="467.4" y2="297.5" stroke="#000" stroke-width="1.1"/>
<line x1="464.4" y1="297.0" x2="511.0" y2="297.0" stroke="#000" stroke-width="1.1"/>
<line x1="464.4" y1="297.00" x2="467.4" y2="297.00" stroke="#000" stroke-width="0.8"/>
<text x="461.79999999999995" y="299.70" font-size="7.6" text-anchor="end" fill="#000" stroke="#000">0.0</text>
<line x1="464.4" y1="267.10" x2="467.4" y2="267.10" stroke="#000" stroke-width="0.8"/>
<text x="461.79999999999995" y="269.80" font-size="7.6" text-anchor="end" fill="#000" stroke="#000">0.5</text>
<line x1="464.4" y1="237.20" x2="467.4" y2="237.20" stroke="#000" stroke-width="0.8"/>
<text x="461.79999999999995" y="239.90" font-size="7.6" text-anchor="end" fill="#000" stroke="#000">1.0</text>
<line x1="464.4" y1="207.30" x2="467.4" y2="207.30" stroke="#000" stroke-width="0.8"/>
<text x="461.79999999999995" y="210.00" font-size="7.6" text-anchor="end" fill="#000" stroke="#000">1.5</text>
<line x1="476.2" y1="238.10" x2="476.2" y2="237.50" stroke="#333" stroke-width="0.8"/>
<line x1="473.0" y1="237.50" x2="479.4" y2="237.50" stroke="#333" stroke-width="0.8"/>
<rect x="472.2" y="238.10" width="8.0" height="58.90" fill="#c8102e"/>
<line x1="488.3" y1="261.12" x2="488.3" y2="259.33" stroke="#333" stroke-width="0.8"/>
<line x1="485.1" y1="259.33" x2="491.5" y2="259.33" stroke="#333" stroke-width="0.8"/>
<rect x="484.3" y="261.12" width="8.0" height="35.88" fill="#145283"/>
<line x1="500.4" y1="262.91" x2="500.4" y2="261.12" stroke="#333" stroke-width="0.8"/>
<line x1="497.2" y1="261.12" x2="503.59999999999997" y2="261.12" stroke="#333" stroke-width="0.8"/>
<rect x="496.4" y="262.91" width="8.0" height="34.09" fill="#3cb54a"/>
<path d="M476.4,229.4 L476.4,226.0 L488.2,226.0 L488.2,229.4" fill="none" stroke="#111" stroke-width="1.0"/>
<circle cx="477.80" cy="222.70" r="0.95" fill="#111"/>
<circle cx="480.80" cy="222.70" r="0.95" fill="#111"/>
<circle cx="483.80" cy="222.70" r="0.95" fill="#111"/>
<circle cx="486.80" cy="222.70" r="0.95" fill="#111"/>
<path d="M477.0,217.6 L477.0,214.6 L495.6,214.6 L495.6,217.6" fill="none" stroke="#111" stroke-width="1.0"/>
<circle cx="481.80" cy="211.30" r="0.95" fill="#111"/>
<circle cx="484.80" cy="211.30" r="0.95" fill="#111"/>
<circle cx="487.80" cy="211.30" r="0.95" fill="#111"/>
<circle cx="490.80" cy="211.30" r="0.95" fill="#111"/>
<text transform="translate(435.2,240.0) rotate(-90) scale(0.742,1)" font-size="8.5" text-anchor="middle" fill="#000" stroke="#000" style="stroke-width:0.3px">Relative AnnexinV<tspan font-size="5.5" dy="-3">+</tspan></text>
<text transform="translate(446.4,240.0) rotate(-90) scale(0.742,1)" font-size="8.5" text-anchor="middle" fill="#000" stroke="#000" style="stroke-width:0.3px">compared to control</text>
<line x1="368.5" y1="315.6" x2="368.5" y2="409.1" stroke="#000" stroke-width="1.1"/>
<line x1="365.5" y1="408.6" x2="413.4" y2="408.6" stroke="#000" stroke-width="1.1"/>
<line x1="365.5" y1="408.60" x2="368.5" y2="408.60" stroke="#000" stroke-width="0.8"/>
<text x="362.9" y="411.30" font-size="7.6" text-anchor="end" fill="#000" stroke="#000">0.0</text>
<line x1="365.5" y1="386.30" x2="368.5" y2="386.30" stroke="#000" stroke-width="0.8"/>
<text x="362.9" y="389.00" font-size="7.6" text-anchor="end" fill="#000" stroke="#000">0.5</text>
<line x1="365.5" y1="364.00" x2="368.5" y2="364.00" stroke="#000" stroke-width="0.8"/>
<text x="362.9" y="366.70" font-size="7.6" text-anchor="end" fill="#000" stroke="#000">1.0</text>
<line x1="365.5" y1="341.70" x2="368.5" y2="341.70" stroke="#000" stroke-width="0.8"/>
<text x="362.9" y="344.40" font-size="7.6" text-anchor="end" fill="#000" stroke="#000">1.5</text>
<line x1="365.5" y1="319.40" x2="368.5" y2="319.40" stroke="#000" stroke-width="0.8"/>
<text x="362.9" y="322.10" font-size="7.6" text-anchor="end" fill="#000" stroke="#000">2.0</text>
<line x1="377.7" y1="364.89" x2="377.7" y2="363.33" stroke="#333" stroke-width="0.8"/>
<line x1="374.5" y1="363.33" x2="380.9" y2="363.33" stroke="#333" stroke-width="0.8"/>
<rect x="373.7" y="364.89" width="8.0" height="43.71" fill="#c8102e"/>
<line x1="389.8" y1="342.59" x2="389.8" y2="341.25" stroke="#333" stroke-width="0.8"/>
<line x1="386.6" y1="341.25" x2="393.0" y2="341.25" stroke="#333" stroke-width="0.8"/>
<rect x="385.8" y="342.59" width="8.0" height="66.01" fill="#145283"/>
<line x1="401.9" y1="350.84" x2="401.9" y2="350.49" stroke="#333" stroke-width="0.8"/>
<line x1="398.7" y1="350.49" x2="405.09999999999997" y2="350.49" stroke="#333" stroke-width="0.8"/>
<rect x="397.9" y="350.84" width="8.0" height="57.76" fill="#3cb54a"/>
<path d="M378.6,338.29999999999995 L378.6,334.9 L390.2,334.9 L390.2,337.9" fill="none" stroke="#111" stroke-width="1.0"/>
<circle cx="379.90" cy="331.60" r="0.95" fill="#111"/>
<circle cx="382.90" cy="331.60" r="0.95" fill="#111"/>
<circle cx="385.90" cy="331.60" r="0.95" fill="#111"/>
<circle cx="388.90" cy="331.60" r="0.95" fill="#111"/>
<path d="M379.2,330.1 L379.2,327.1 L397.4,327.1 L397.4,330.1" fill="none" stroke="#111" stroke-width="1.0"/>
<circle cx="383.80" cy="323.80" r="0.95" fill="#111"/>
<circle cx="386.80" cy="323.80" r="0.95" fill="#111"/>
<circle cx="389.80" cy="323.80" r="0.95" fill="#111"/>
<circle cx="392.80" cy="323.80" r="0.95" fill="#111"/>
<text transform="translate(335.6,362.2) rotate(-90) scale(0.742,1)" font-size="8.5" text-anchor="middle" fill="#000" stroke="#000" style="stroke-width:0.3px">Relative MMP</text>
<text transform="translate(346.8,362.2) rotate(-90) scale(0.742,1)" font-size="8.5" text-anchor="middle" fill="#000" stroke="#000" style="stroke-width:0.3px">compared to control</text>
<line x1="467.5" y1="315.6" x2="467.5" y2="409.1" stroke="#000" stroke-width="1.1"/>
<line x1="464.5" y1="408.6" x2="511.0" y2="408.6" stroke="#000" stroke-width="1.1"/>
<line x1="464.5" y1="408.60" x2="467.5" y2="408.60" stroke="#000" stroke-width="0.8"/>
<text x="461.9" y="411.30" font-size="7.6" text-anchor="end" fill="#000" stroke="#000">0.0</text>
<line x1="464.5" y1="378.90" x2="467.5" y2="378.90" stroke="#000" stroke-width="0.8"/>
<text x="461.9" y="381.60" font-size="7.6" text-anchor="end" fill="#000" stroke="#000">0.5</text>
<line x1="464.5" y1="349.20" x2="467.5" y2="349.20" stroke="#000" stroke-width="0.8"/>
<text x="461.9" y="351.90" font-size="7.6" text-anchor="end" fill="#000" stroke="#000">1.0</text>
<line x1="464.5" y1="319.50" x2="467.5" y2="319.50" stroke="#000" stroke-width="0.8"/>
<text x="461.9" y="322.20" font-size="7.6" text-anchor="end" fill="#000" stroke="#000">1.5</text>
<line x1="476.3" y1="350.39" x2="476.3" y2="341.48" stroke="#333" stroke-width="0.8"/>
<line x1="473.1" y1="341.48" x2="479.5" y2="341.48" stroke="#333" stroke-width="0.8"/>
<rect x="472.3" y="350.39" width="8.0" height="58.21" fill="#c8102e"/>
<line x1="488.40000000000003" y1="369.40" x2="488.40000000000003" y2="367.61" stroke="#333" stroke-width="0.8"/>
<line x1="485.20000000000005" y1="367.61" x2="491.6" y2="367.61" stroke="#333" stroke-width="0.8"/>
<rect x="484.40000000000003" y="369.40" width="8.0" height="39.20" fill="#145283"/>
<line x1="500.5" y1="368.50" x2="500.5" y2="367.79" stroke="#333" stroke-width="0.8"/>
<line x1="497.3" y1="367.79" x2="503.7" y2="367.79" stroke="#333" stroke-width="0.8"/>
<rect x="496.5" y="368.50" width="8.0" height="40.09" fill="#3cb54a"/>
<path d="M477.0,339.09999999999997 L477.0,335.7 L488.9,335.7 L488.9,338.7" fill="none" stroke="#111" stroke-width="1.0"/>
<circle cx="481.45" cy="332.40" r="0.95" fill="#111"/>
<circle cx="484.45" cy="332.40" r="0.95" fill="#111"/>
<path d="M477.7,327.7 L477.7,324.7 L496.5,324.7 L496.5,327.7" fill="none" stroke="#111" stroke-width="1.0"/>
<circle cx="485.60" cy="321.40" r="0.95" fill="#111"/>
<circle cx="488.60" cy="321.40" r="0.95" fill="#111"/>
<text transform="translate(435.4,362.2) rotate(-90) scale(0.742,1)" font-size="8.5" text-anchor="middle" fill="#000" stroke="#000" style="stroke-width:0.3px">Relative mtROS</text>
<text transform="translate(446.59999999999997,362.2) rotate(-90) scale(0.742,1)" font-size="8.5" text-anchor="middle" fill="#000" stroke="#000" style="stroke-width:0.3px">compared to control</text>
</svg>
</body></html>
